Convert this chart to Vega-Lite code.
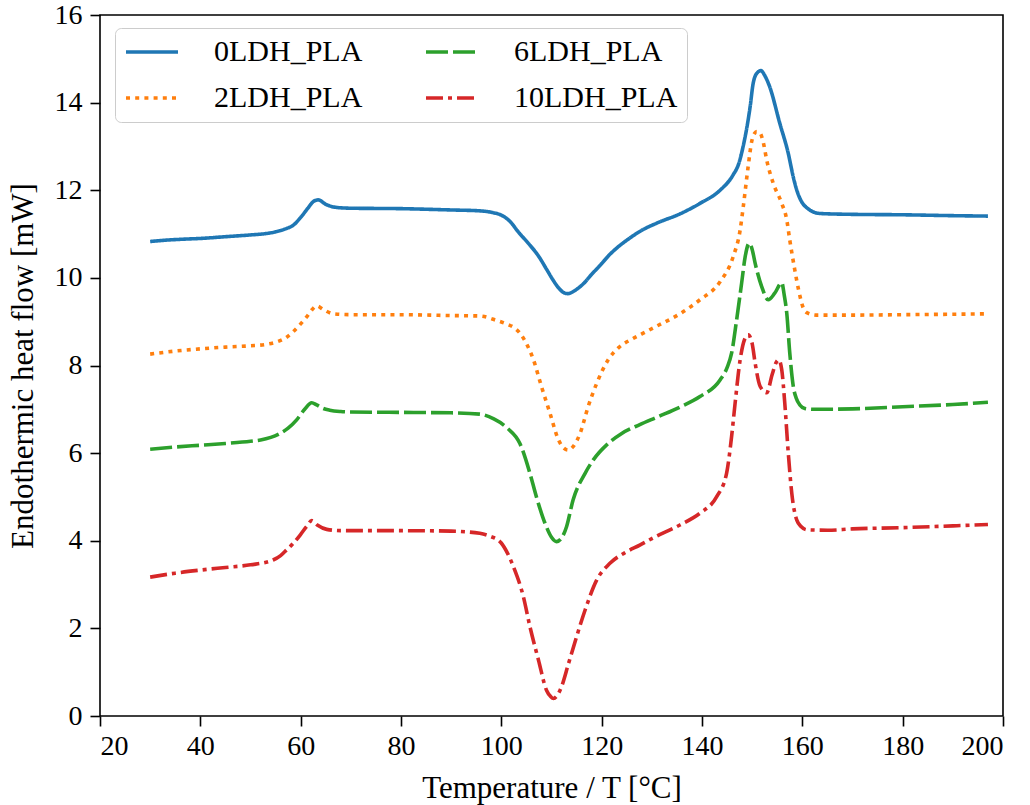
{
  "$schema": "https://vega.github.io/schema/vega-lite/v6.json",
  "width": 903,
  "height": 701,
  "autosize": {"type": "none"},
  "padding": {"left": 100, "top": 15, "right": 27, "bottom": 89},
  "background": "white",
  "config": {
    "view": {"stroke": "black", "strokeWidth": 1.6},
    "font": "Liberation Serif",
    "axis": {
      "grid": false,
      "domain": false,
      "tickColor": "black",
      "tickSize": 10,
      "tickWidth": 1.6,
      "labelColor": "black",
      "titleColor": "black",
      "labelFont": "Liberation Serif",
      "titleFont": "Liberation Serif",
      "labelFontSize": 28,
      "titleFontSize": 31,
      "titleFontWeight": "normal"
    },
    "legend": {
      "labelFont": "Liberation Serif",
      "labelFontSize": 30,
      "labelColor": "black",
      "labelLimit": 400
    }
  },
  "data": {
    "values": [
      {"s": "0LDH_PLA", "T": 30, "v": 10.83},
      {"s": "0LDH_PLA", "T": 33, "v": 10.86},
      {"s": "0LDH_PLA", "T": 36, "v": 10.88},
      {"s": "0LDH_PLA", "T": 40, "v": 10.9},
      {"s": "0LDH_PLA", "T": 45, "v": 10.94},
      {"s": "0LDH_PLA", "T": 50, "v": 10.98},
      {"s": "0LDH_PLA", "T": 53, "v": 11.01},
      {"s": "0LDH_PLA", "T": 55, "v": 11.05},
      {"s": "0LDH_PLA", "T": 57, "v": 11.12},
      {"s": "0LDH_PLA", "T": 58.5, "v": 11.2},
      {"s": "0LDH_PLA", "T": 60, "v": 11.38},
      {"s": "0LDH_PLA", "T": 61.5, "v": 11.6},
      {"s": "0LDH_PLA", "T": 62.5, "v": 11.74},
      {"s": "0LDH_PLA", "T": 63.5, "v": 11.78},
      {"s": "0LDH_PLA", "T": 65, "v": 11.68},
      {"s": "0LDH_PLA", "T": 67, "v": 11.61},
      {"s": "0LDH_PLA", "T": 70, "v": 11.59},
      {"s": "0LDH_PLA", "T": 80, "v": 11.58},
      {"s": "0LDH_PLA", "T": 90, "v": 11.55},
      {"s": "0LDH_PLA", "T": 95.7, "v": 11.53},
      {"s": "0LDH_PLA", "T": 98.3, "v": 11.49},
      {"s": "0LDH_PLA", "T": 100.2, "v": 11.42},
      {"s": "0LDH_PLA", "T": 101.8, "v": 11.28},
      {"s": "0LDH_PLA", "T": 103.3, "v": 11.06},
      {"s": "0LDH_PLA", "T": 105.3, "v": 10.8},
      {"s": "0LDH_PLA", "T": 107.4, "v": 10.5},
      {"s": "0LDH_PLA", "T": 109, "v": 10.2},
      {"s": "0LDH_PLA", "T": 110.2, "v": 9.97},
      {"s": "0LDH_PLA", "T": 111.5, "v": 9.76},
      {"s": "0LDH_PLA", "T": 112.5, "v": 9.66},
      {"s": "0LDH_PLA", "T": 113.3, "v": 9.64},
      {"s": "0LDH_PLA", "T": 114.5, "v": 9.7},
      {"s": "0LDH_PLA", "T": 116.3, "v": 9.86},
      {"s": "0LDH_PLA", "T": 118, "v": 10.08},
      {"s": "0LDH_PLA", "T": 119.8, "v": 10.3},
      {"s": "0LDH_PLA", "T": 121.5, "v": 10.52},
      {"s": "0LDH_PLA", "T": 123.2, "v": 10.7},
      {"s": "0LDH_PLA", "T": 125.5, "v": 10.9},
      {"s": "0LDH_PLA", "T": 127.6, "v": 11.06},
      {"s": "0LDH_PLA", "T": 131, "v": 11.25},
      {"s": "0LDH_PLA", "T": 135.6, "v": 11.46},
      {"s": "0LDH_PLA", "T": 139.6, "v": 11.7},
      {"s": "0LDH_PLA", "T": 143.6, "v": 12.0},
      {"s": "0LDH_PLA", "T": 146.2, "v": 12.35},
      {"s": "0LDH_PLA", "T": 147.3, "v": 12.6},
      {"s": "0LDH_PLA", "T": 148.2, "v": 13.0},
      {"s": "0LDH_PLA", "T": 149.6, "v": 13.91},
      {"s": "0LDH_PLA", "T": 150.2, "v": 14.44},
      {"s": "0LDH_PLA", "T": 151, "v": 14.68},
      {"s": "0LDH_PLA", "T": 151.75, "v": 14.73},
      {"s": "0LDH_PLA", "T": 152.5, "v": 14.62},
      {"s": "0LDH_PLA", "T": 153.5, "v": 14.36},
      {"s": "0LDH_PLA", "T": 155.5, "v": 13.53},
      {"s": "0LDH_PLA", "T": 157.2, "v": 12.84},
      {"s": "0LDH_PLA", "T": 158.2, "v": 12.3},
      {"s": "0LDH_PLA", "T": 158.9, "v": 12.0},
      {"s": "0LDH_PLA", "T": 159.8, "v": 11.75},
      {"s": "0LDH_PLA", "T": 160.9, "v": 11.6},
      {"s": "0LDH_PLA", "T": 163.5, "v": 11.47},
      {"s": "0LDH_PLA", "T": 170, "v": 11.45},
      {"s": "0LDH_PLA", "T": 180, "v": 11.44},
      {"s": "0LDH_PLA", "T": 190, "v": 11.42},
      {"s": "0LDH_PLA", "T": 197, "v": 11.41},

      {"s": "2LDH_PLA", "T": 30, "v": 8.26},
      {"s": "2LDH_PLA", "T": 35, "v": 8.33},
      {"s": "2LDH_PLA", "T": 40, "v": 8.38},
      {"s": "2LDH_PLA", "T": 45, "v": 8.42},
      {"s": "2LDH_PLA", "T": 50, "v": 8.45},
      {"s": "2LDH_PLA", "T": 53, "v": 8.48},
      {"s": "2LDH_PLA", "T": 55, "v": 8.53},
      {"s": "2LDH_PLA", "T": 57, "v": 8.63},
      {"s": "2LDH_PLA", "T": 58.5, "v": 8.77},
      {"s": "2LDH_PLA", "T": 60, "v": 8.95},
      {"s": "2LDH_PLA", "T": 61.2, "v": 9.11},
      {"s": "2LDH_PLA", "T": 62.3, "v": 9.28},
      {"s": "2LDH_PLA", "T": 63.2, "v": 9.36},
      {"s": "2LDH_PLA", "T": 64.5, "v": 9.28},
      {"s": "2LDH_PLA", "T": 66.5, "v": 9.18},
      {"s": "2LDH_PLA", "T": 70, "v": 9.16},
      {"s": "2LDH_PLA", "T": 80, "v": 9.16},
      {"s": "2LDH_PLA", "T": 90, "v": 9.14},
      {"s": "2LDH_PLA", "T": 95.7, "v": 9.13},
      {"s": "2LDH_PLA", "T": 99, "v": 9.03},
      {"s": "2LDH_PLA", "T": 101, "v": 8.95},
      {"s": "2LDH_PLA", "T": 102.6, "v": 8.86},
      {"s": "2LDH_PLA", "T": 103.7, "v": 8.74},
      {"s": "2LDH_PLA", "T": 105, "v": 8.5},
      {"s": "2LDH_PLA", "T": 106.4, "v": 8.13},
      {"s": "2LDH_PLA", "T": 108, "v": 7.52},
      {"s": "2LDH_PLA", "T": 109.7, "v": 6.91},
      {"s": "2LDH_PLA", "T": 111.4, "v": 6.3},
      {"s": "2LDH_PLA", "T": 112.4, "v": 6.12},
      {"s": "2LDH_PLA", "T": 113.3, "v": 6.07},
      {"s": "2LDH_PLA", "T": 114.3, "v": 6.15},
      {"s": "2LDH_PLA", "T": 115.7, "v": 6.45},
      {"s": "2LDH_PLA", "T": 117.3, "v": 7.06},
      {"s": "2LDH_PLA", "T": 119, "v": 7.59},
      {"s": "2LDH_PLA", "T": 121.3, "v": 8.13},
      {"s": "2LDH_PLA", "T": 123.5, "v": 8.42},
      {"s": "2LDH_PLA", "T": 126, "v": 8.6},
      {"s": "2LDH_PLA", "T": 128, "v": 8.72},
      {"s": "2LDH_PLA", "T": 131, "v": 8.9},
      {"s": "2LDH_PLA", "T": 135.6, "v": 9.18},
      {"s": "2LDH_PLA", "T": 139.6, "v": 9.5},
      {"s": "2LDH_PLA", "T": 143.6, "v": 9.91},
      {"s": "2LDH_PLA", "T": 146.2, "v": 10.48},
      {"s": "2LDH_PLA", "T": 147.6, "v": 11.09},
      {"s": "2LDH_PLA", "T": 148.2, "v": 11.6},
      {"s": "2LDH_PLA", "T": 149.2, "v": 12.54},
      {"s": "2LDH_PLA", "T": 149.9, "v": 13.11},
      {"s": "2LDH_PLA", "T": 150.5, "v": 13.3},
      {"s": "2LDH_PLA", "T": 150.9, "v": 13.34},
      {"s": "2LDH_PLA", "T": 151.6, "v": 13.3},
      {"s": "2LDH_PLA", "T": 152.2, "v": 13.1},
      {"s": "2LDH_PLA", "T": 152.9, "v": 12.69},
      {"s": "2LDH_PLA", "T": 154.2, "v": 12.16},
      {"s": "2LDH_PLA", "T": 155.9, "v": 11.7},
      {"s": "2LDH_PLA", "T": 156.9, "v": 11.32},
      {"s": "2LDH_PLA", "T": 157.5, "v": 10.86},
      {"s": "2LDH_PLA", "T": 158.5, "v": 10.18},
      {"s": "2LDH_PLA", "T": 159.3, "v": 9.7},
      {"s": "2LDH_PLA", "T": 160.2, "v": 9.31},
      {"s": "2LDH_PLA", "T": 161, "v": 9.2},
      {"s": "2LDH_PLA", "T": 162.8, "v": 9.15},
      {"s": "2LDH_PLA", "T": 170, "v": 9.15},
      {"s": "2LDH_PLA", "T": 180, "v": 9.16},
      {"s": "2LDH_PLA", "T": 190, "v": 9.17},
      {"s": "2LDH_PLA", "T": 197, "v": 9.18},

      {"s": "6LDH_PLA", "T": 30, "v": 6.09},
      {"s": "6LDH_PLA", "T": 35, "v": 6.14},
      {"s": "6LDH_PLA", "T": 40, "v": 6.18},
      {"s": "6LDH_PLA", "T": 45, "v": 6.22},
      {"s": "6LDH_PLA", "T": 50, "v": 6.27},
      {"s": "6LDH_PLA", "T": 52, "v": 6.3},
      {"s": "6LDH_PLA", "T": 55.9, "v": 6.45},
      {"s": "6LDH_PLA", "T": 57.5, "v": 6.57},
      {"s": "6LDH_PLA", "T": 59.2, "v": 6.76},
      {"s": "6LDH_PLA", "T": 60.8, "v": 7.0},
      {"s": "6LDH_PLA", "T": 62.2, "v": 7.15},
      {"s": "6LDH_PLA", "T": 63.2, "v": 7.1},
      {"s": "6LDH_PLA", "T": 64.5, "v": 7.02},
      {"s": "6LDH_PLA", "T": 65.8, "v": 6.98},
      {"s": "6LDH_PLA", "T": 68, "v": 6.95},
      {"s": "6LDH_PLA", "T": 70, "v": 6.94},
      {"s": "6LDH_PLA", "T": 80, "v": 6.93},
      {"s": "6LDH_PLA", "T": 90, "v": 6.92},
      {"s": "6LDH_PLA", "T": 95.7, "v": 6.89},
      {"s": "6LDH_PLA", "T": 98.5, "v": 6.78},
      {"s": "6LDH_PLA", "T": 101.2, "v": 6.57},
      {"s": "6LDH_PLA", "T": 103.7, "v": 6.22},
      {"s": "6LDH_PLA", "T": 105.7, "v": 5.54},
      {"s": "6LDH_PLA", "T": 107, "v": 5.0},
      {"s": "6LDH_PLA", "T": 108.7, "v": 4.4},
      {"s": "6LDH_PLA", "T": 110, "v": 4.08},
      {"s": "6LDH_PLA", "T": 111, "v": 3.98},
      {"s": "6LDH_PLA", "T": 112, "v": 4.06},
      {"s": "6LDH_PLA", "T": 113, "v": 4.32},
      {"s": "6LDH_PLA", "T": 114.3, "v": 4.93},
      {"s": "6LDH_PLA", "T": 116.7, "v": 5.54},
      {"s": "6LDH_PLA", "T": 118.3, "v": 5.84},
      {"s": "6LDH_PLA", "T": 121.3, "v": 6.22},
      {"s": "6LDH_PLA", "T": 124, "v": 6.45},
      {"s": "6LDH_PLA", "T": 127.6, "v": 6.65},
      {"s": "6LDH_PLA", "T": 131, "v": 6.82},
      {"s": "6LDH_PLA", "T": 135.6, "v": 7.05},
      {"s": "6LDH_PLA", "T": 139.6, "v": 7.29},
      {"s": "6LDH_PLA", "T": 143.6, "v": 7.67},
      {"s": "6LDH_PLA", "T": 145, "v": 7.95},
      {"s": "6LDH_PLA", "T": 145.9, "v": 8.28},
      {"s": "6LDH_PLA", "T": 146.9, "v": 9.04},
      {"s": "6LDH_PLA", "T": 147.9, "v": 9.88},
      {"s": "6LDH_PLA", "T": 148.6, "v": 10.48},
      {"s": "6LDH_PLA", "T": 149.4, "v": 10.79},
      {"s": "6LDH_PLA", "T": 150, "v": 10.65},
      {"s": "6LDH_PLA", "T": 150.6, "v": 10.33},
      {"s": "6LDH_PLA", "T": 151.9, "v": 9.8},
      {"s": "6LDH_PLA", "T": 153.2, "v": 9.5},
      {"s": "6LDH_PLA", "T": 154.5, "v": 9.65},
      {"s": "6LDH_PLA", "T": 155.9, "v": 9.89},
      {"s": "6LDH_PLA", "T": 156.4, "v": 9.6},
      {"s": "6LDH_PLA", "T": 156.9, "v": 9.19},
      {"s": "6LDH_PLA", "T": 157.5, "v": 8.28},
      {"s": "6LDH_PLA", "T": 158.2, "v": 7.52},
      {"s": "6LDH_PLA", "T": 158.8, "v": 7.25},
      {"s": "6LDH_PLA", "T": 159.5, "v": 7.1},
      {"s": "6LDH_PLA", "T": 160.5, "v": 7.02},
      {"s": "6LDH_PLA", "T": 162.2, "v": 7.0},
      {"s": "6LDH_PLA", "T": 170, "v": 7.01},
      {"s": "6LDH_PLA", "T": 180, "v": 7.06},
      {"s": "6LDH_PLA", "T": 190, "v": 7.11},
      {"s": "6LDH_PLA", "T": 197, "v": 7.16},

      {"s": "10LDH_PLA", "T": 30, "v": 3.17},
      {"s": "10LDH_PLA", "T": 35, "v": 3.26},
      {"s": "10LDH_PLA", "T": 40, "v": 3.33},
      {"s": "10LDH_PLA", "T": 45, "v": 3.39},
      {"s": "10LDH_PLA", "T": 50, "v": 3.45},
      {"s": "10LDH_PLA", "T": 54.5, "v": 3.56},
      {"s": "10LDH_PLA", "T": 56, "v": 3.66},
      {"s": "10LDH_PLA", "T": 57.2, "v": 3.79},
      {"s": "10LDH_PLA", "T": 58.6, "v": 3.95},
      {"s": "10LDH_PLA", "T": 59.9, "v": 4.13},
      {"s": "10LDH_PLA", "T": 61.2, "v": 4.33},
      {"s": "10LDH_PLA", "T": 62.2, "v": 4.46},
      {"s": "10LDH_PLA", "T": 63.3, "v": 4.36},
      {"s": "10LDH_PLA", "T": 65.2, "v": 4.26},
      {"s": "10LDH_PLA", "T": 68, "v": 4.23},
      {"s": "10LDH_PLA", "T": 80, "v": 4.23},
      {"s": "10LDH_PLA", "T": 90, "v": 4.22},
      {"s": "10LDH_PLA", "T": 95.7, "v": 4.17},
      {"s": "10LDH_PLA", "T": 97.8, "v": 4.1},
      {"s": "10LDH_PLA", "T": 99.9, "v": 3.96},
      {"s": "10LDH_PLA", "T": 101.3, "v": 3.7},
      {"s": "10LDH_PLA", "T": 102.4, "v": 3.41},
      {"s": "10LDH_PLA", "T": 104.4, "v": 2.72},
      {"s": "10LDH_PLA", "T": 105.7, "v": 2.04},
      {"s": "10LDH_PLA", "T": 107.4, "v": 1.28},
      {"s": "10LDH_PLA", "T": 109, "v": 0.59},
      {"s": "10LDH_PLA", "T": 109.8, "v": 0.45},
      {"s": "10LDH_PLA", "T": 110.4, "v": 0.4},
      {"s": "10LDH_PLA", "T": 111.2, "v": 0.48},
      {"s": "10LDH_PLA", "T": 112, "v": 0.67},
      {"s": "10LDH_PLA", "T": 113.4, "v": 1.2},
      {"s": "10LDH_PLA", "T": 115, "v": 1.81},
      {"s": "10LDH_PLA", "T": 116.7, "v": 2.42},
      {"s": "10LDH_PLA", "T": 119, "v": 3.1},
      {"s": "10LDH_PLA", "T": 121.7, "v": 3.49},
      {"s": "10LDH_PLA", "T": 125, "v": 3.75},
      {"s": "10LDH_PLA", "T": 127.6, "v": 3.9},
      {"s": "10LDH_PLA", "T": 130, "v": 4.05},
      {"s": "10LDH_PLA", "T": 135.6, "v": 4.36},
      {"s": "10LDH_PLA", "T": 139.6, "v": 4.63},
      {"s": "10LDH_PLA", "T": 142.9, "v": 5.0},
      {"s": "10LDH_PLA", "T": 144.9, "v": 5.54},
      {"s": "10LDH_PLA", "T": 145.9, "v": 6.38},
      {"s": "10LDH_PLA", "T": 146.6, "v": 7.14},
      {"s": "10LDH_PLA", "T": 147.6, "v": 8.13},
      {"s": "10LDH_PLA", "T": 148.5, "v": 8.6},
      {"s": "10LDH_PLA", "T": 149.2, "v": 8.7},
      {"s": "10LDH_PLA", "T": 150, "v": 8.5},
      {"s": "10LDH_PLA", "T": 150.6, "v": 8.05},
      {"s": "10LDH_PLA", "T": 151.6, "v": 7.52},
      {"s": "10LDH_PLA", "T": 152.9, "v": 7.38},
      {"s": "10LDH_PLA", "T": 154, "v": 7.8},
      {"s": "10LDH_PLA", "T": 154.7, "v": 8.05},
      {"s": "10LDH_PLA", "T": 155.3, "v": 8.13},
      {"s": "10LDH_PLA", "T": 155.9, "v": 7.9},
      {"s": "10LDH_PLA", "T": 156.5, "v": 7.14},
      {"s": "10LDH_PLA", "T": 157.2, "v": 6.0},
      {"s": "10LDH_PLA", "T": 157.9, "v": 5.08},
      {"s": "10LDH_PLA", "T": 158.9, "v": 4.47},
      {"s": "10LDH_PLA", "T": 159.8, "v": 4.32},
      {"s": "10LDH_PLA", "T": 160.9, "v": 4.25},
      {"s": "10LDH_PLA", "T": 165, "v": 4.24},
      {"s": "10LDH_PLA", "T": 170, "v": 4.27},
      {"s": "10LDH_PLA", "T": 180, "v": 4.3},
      {"s": "10LDH_PLA", "T": 190, "v": 4.34},
      {"s": "10LDH_PLA", "T": 197, "v": 4.37}
    ]
  },
  "mark": {"type": "line", "strokeWidth": 3.6, "interpolate": "monotone", "strokeCap": "butt"},
  "encoding": {
    "x": {
      "field": "T",
      "type": "quantitative",
      "scale": {"domain": [20, 200], "nice": false, "zero": false},
      "axis": {"values": [20, 40, 60, 80, 100, 120, 140, 160, 180, 200], "title": "Temperature / T [°C]", "labelPadding": 6, "titlePadding": 13}
    },
    "y": {
      "field": "v",
      "type": "quantitative",
      "scale": {"domain": [0, 16], "nice": false},
      "axis": {"values": [0, 2, 4, 6, 8, 10, 12, 14, 16], "title": "Endothermic heat flow [mW]", "labelPadding": 8, "titlePadding": 15}
    },
    "detail": {"field": "s"},
    "color": {
      "field": "s",
      "type": "nominal",
      "scale": {
        "domain": ["0LDH_PLA", "6LDH_PLA", "2LDH_PLA", "10LDH_PLA"],
        "range": ["#1f77b4", "#2ca02c", "#ff7f0e", "#d62728"]
      },
      "legend": {
        "title": null,
        "orient": "none",
        "legendX": 15,
        "legendY": 13,
        "columns": 2,
        "direction": "horizontal",
        "columnPadding": 55,
        "rowPadding": 16,
        "padding": 9,
        "fillColor": "white",
        "strokeColor": "#cccccc",
        "cornerRadius": 6,
        "symbolType": "M-1,0H3",
        "symbolSize": 676,
        "symbolStrokeWidth": 3.6,
        "labelOffset": 60,
        "labelLimit": 400
      }
    },
    "strokeDash": {
      "field": "s",
      "type": "nominal",
      "scale": {
        "domain": ["0LDH_PLA", "6LDH_PLA", "2LDH_PLA", "10LDH_PLA"],
        "range": [[1, 0], [22, 5], [4, 5.2], [17, 5, 4, 5]]
      },
      "legend": {
        "title": null,
        "orient": "none",
        "legendX": 15,
        "legendY": 13,
        "columns": 2,
        "direction": "horizontal",
        "columnPadding": 55,
        "rowPadding": 16,
        "padding": 9,
        "fillColor": "white",
        "strokeColor": "#cccccc",
        "cornerRadius": 6,
        "symbolType": "M-1,0H3",
        "symbolSize": 676,
        "symbolStrokeWidth": 3.6,
        "labelOffset": 60,
        "labelLimit": 400
      }
    }
  }
}
